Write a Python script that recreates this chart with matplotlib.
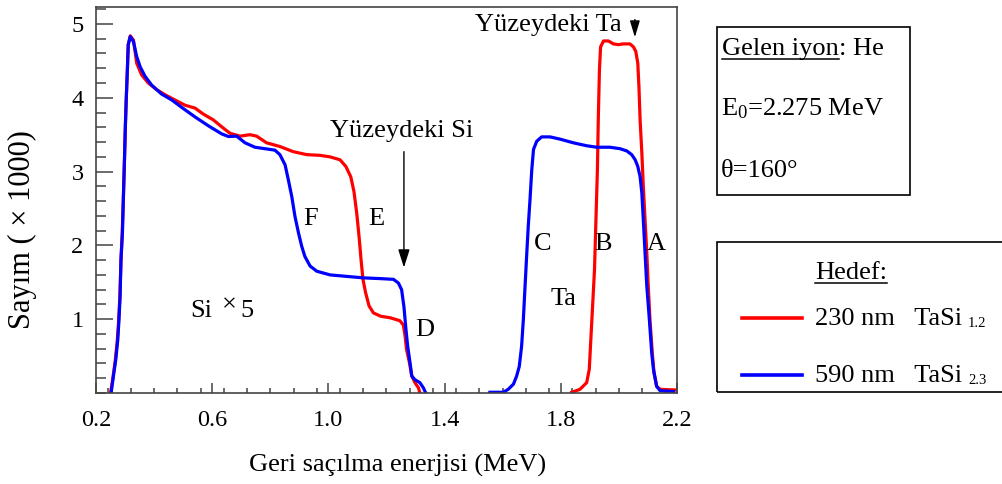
import matplotlib
matplotlib.use("Agg")
import matplotlib.pyplot as plt
from matplotlib.lines import Line2D
from matplotlib.patches import Rectangle
from matplotlib.ticker import MultipleLocator, FixedLocator

plt.rcParams['font.family'] = ['Liberation Serif', 'DejaVu Serif']
plt.rcParams['mathtext.fontset'] = 'custom'
plt.rcParams['mathtext.rm'] = 'Liberation Serif'
plt.rcParams['mathtext.it'] = 'Liberation Serif:italic'

# ---- data (energy in MeV, counts x1000) ----
red_si_E = [0.250, 0.258, 0.266, 0.273, 0.278, 0.282, 0.286, 0.290, 0.294, 0.298,
            0.301, 0.304, 0.308, 0.311, 0.318, 0.329, 0.340, 0.357, 0.380, 0.409,
            0.438, 0.472, 0.506, 0.541, 0.569, 0.604, 0.638, 0.661, 0.696, 0.730,
            0.753, 0.787, 0.833, 0.879, 0.925, 0.971, 1.005, 1.040, 1.060, 1.077,
            1.088, 1.098, 1.106, 1.113, 1.119, 1.128, 1.140, 1.155, 1.180, 1.212,
            1.246, 1.258, 1.264, 1.269, 1.279, 1.287, 1.298, 1.310, 1.315]
red_si_c = [0.00, 0.20, 0.43, 0.70, 0.98, 1.30, 1.80, 2.15, 2.60, 3.15,
            3.60, 3.97, 4.38, 4.72, 4.84, 4.78, 4.47, 4.31, 4.20, 4.11,
            4.04, 3.97, 3.90, 3.86, 3.78, 3.70, 3.59, 3.52, 3.48, 3.50,
            3.48, 3.39, 3.34, 3.27, 3.23, 3.22, 3.20, 3.16, 3.07, 2.93,
            2.73, 2.42, 2.10, 1.78, 1.54, 1.36, 1.18, 1.085, 1.04, 1.02,
            0.98, 0.92, 0.77, 0.59, 0.41, 0.23, 0.14, 0.07, 0.0]
red_ta_E = [1.838, 1.866, 1.889, 1.898, 1.904, 1.910, 1.916, 1.921, 1.926, 1.929,
            1.933, 1.937, 1.947, 1.964, 1.981, 1.998, 2.015, 2.038, 2.050, 2.058,
            2.065, 2.069, 2.073, 2.079, 2.084, 2.090, 2.096, 2.101, 2.107, 2.115,
            2.121, 2.130, 2.142, 2.200]
red_ta_c = [0.01, 0.05, 0.14, 0.32, 0.77, 1.22, 1.67, 2.35, 3.02, 3.70,
            4.38, 4.69, 4.77, 4.77, 4.73, 4.72, 4.73, 4.73, 4.69, 4.63,
            4.47, 4.15, 3.70, 3.25, 2.80, 2.35, 1.90, 1.45, 0.99, 0.54,
            0.27, 0.09, 0.05, 0.04]

blue_si_E = [0.252, 0.260, 0.268, 0.275, 0.279, 0.283, 0.286, 0.291, 0.294, 0.298,
             0.301, 0.304, 0.308, 0.311, 0.318, 0.329, 0.340, 0.352, 0.369, 0.392,
             0.426, 0.461, 0.495, 0.541, 0.587, 0.633, 0.656, 0.684, 0.713, 0.747,
             0.782, 0.816, 0.833, 0.851, 0.862, 0.874, 0.885, 0.897, 0.908, 0.919,
             0.937, 0.960, 1.006, 1.063, 1.120, 1.178, 1.224, 1.241, 1.252, 1.260,
             1.267, 1.273, 1.281, 1.287, 1.298, 1.315, 1.327, 1.335]
blue_si_c = [0.00, 0.23, 0.45, 0.72, 0.99, 1.31, 1.81, 2.17, 2.62, 3.16,
             3.61, 3.97, 4.38, 4.72, 4.83, 4.76, 4.56, 4.42, 4.29, 4.17,
             4.05, 3.97, 3.87, 3.74, 3.62, 3.51, 3.475, 3.48, 3.39, 3.33,
             3.31, 3.29, 3.23, 3.09, 2.89, 2.66, 2.39, 2.17, 1.99, 1.85,
             1.72, 1.65, 1.60, 1.58, 1.56, 1.55, 1.54, 1.49, 1.40, 1.17,
             0.86, 0.63, 0.41, 0.23, 0.18, 0.14, 0.07, 0.0]
blue_ta_E = [1.556, 1.602, 1.619, 1.637, 1.648, 1.657, 1.665, 1.671, 1.677, 1.683,
             1.688, 1.694, 1.700, 1.706, 1.717, 1.734, 1.763, 1.797, 1.843, 1.889,
             1.924, 1.969, 2.004, 2.027, 2.044, 2.056, 2.065, 2.073, 2.079, 2.084,
             2.090, 2.096, 2.105, 2.113, 2.119, 2.130, 2.142, 2.188]
blue_ta_c = [0.01, 0.01, 0.05, 0.12, 0.23, 0.36, 0.63, 0.99, 1.45, 1.90,
             2.26, 2.62, 3.02, 3.30, 3.41, 3.47, 3.47, 3.44, 3.39, 3.35,
             3.33, 3.33, 3.31, 3.28, 3.23, 3.16, 3.07, 2.93, 2.71, 2.35,
             1.90, 1.45, 0.99, 0.54, 0.32, 0.09, 0.03, 0.02]

x_ticks = [0.2, 0.6, 1.0, 1.4, 1.8, 2.2]
x_ticklabels = ["0.2", "0.6", "1.0", "1.4", "1.8", "2.2"]
y_ticks = [1, 2, 3, 4, 5]
y_ticklabels = ["1", "2", "3", "4", "5"]

peak_labels = [("F", 0.937, 2.36), ("E", 1.166, 2.36), ("D", 1.333, 0.85),
               ("C", 1.737, 2.02), ("B", 1.944, 2.02), ("A", 2.129, 2.02),
               ("Ta", 1.808, 1.28)]

RED = '#ff0000'
BLUE = '#0000ff'
W, H = 1002, 484

fig = plt.figure(figsize=(W / 100, H / 100), dpi=100)
ax = fig.add_axes([96 / W, 1 - 393 / H, (677 - 96) / W, (393 - 7) / H])

ax.plot(red_si_E, red_si_c, color=RED, lw=2.3, solid_joinstyle='round')
ax.plot(red_ta_E, red_ta_c, color=RED, lw=2.3, solid_joinstyle='round')
ax.plot(blue_si_E, blue_si_c, color=BLUE, lw=2.3, solid_joinstyle='round')
ax.plot(blue_ta_E, blue_ta_c, color=BLUE, lw=2.3, solid_joinstyle='round')

ax.set_xlim(0.2, 2.2)
ax.set_ylim(0, 5.23)
ax.xaxis.set_major_locator(FixedLocator(x_ticks))
ax.set_xticklabels(x_ticklabels)
ax.xaxis.set_minor_locator(MultipleLocator(0.08))
ax.yaxis.set_major_locator(FixedLocator(y_ticks))
ax.set_yticklabels(y_ticklabels)
ax.yaxis.set_minor_locator(MultipleLocator(0.2))

frame_col = '#444444'
for s in ax.spines.values():
    s.set_color(frame_col)
    s.set_linewidth(1.2)
ax.tick_params(axis='x', which='major', direction='in', length=7, width=1.1,
               color=frame_col, labelsize=17.5, pad=12)
ax.tick_params(axis='x', which='minor', direction='in', length=3.5, width=1.1,
               color=frame_col)
ax.tick_params(axis='y', which='major', direction='in', length=12, width=1.1,
               color=frame_col, labelsize=17.5, pad=9)
ax.tick_params(axis='y', which='minor', direction='in', length=7, width=1.1,
               color=frame_col)

fig.text(398 / W, 1 - 465 / H, "Geri saçılma enerjisi (MeV)", fontsize=19,
         ha='center', va='center')
fig.text(22 / W, 1 - 230 / H, "Sayım ( × 1000)", fontsize=22, rotation=90,
         ha='center', va='center')

for txt, ex, cy in peak_labels:
    ax.text(ex, cy, txt, fontsize=19, ha='center', va='center')

# "Si x5" label with raised multiplication sign
ax.text(0.5236, 1.035, "Si", fontsize=19, ha='left', va='baseline')
ax.text(0.634, 1.11, "×", fontsize=19, ha='left', va='baseline')
ax.text(0.6957, 1.035, "5", fontsize=19, ha='left', va='baseline')

# arrows
ax.annotate("", xy=(1.26, 1.70), xytext=(1.26, 3.27),
            arrowprops=dict(arrowstyle='-|>,head_length=1.1,head_width=0.35',
                            mutation_scale=10, color='black', lw=1.0,
                            shrinkA=0, shrinkB=0))
ax.text(1.253, 3.47, "Yüzeydeki Si", fontsize=19, ha='center', va='baseline')
ax.annotate("", xy=(2.055, 4.82), xytext=(2.055, 5.06),
            arrowprops=dict(arrowstyle='-|>,head_length=1.0,head_width=0.3',
                            mutation_scale=10, color='black', lw=1.0,
                            shrinkA=0, shrinkB=0))
ax.text(2.011, 4.90, "Yüzeydeki Ta", fontsize=19, ha='right', va='baseline')

# ---- info box ----
def fx(px):
    return px / W

def fy(py):
    return 1 - py / H

fig.add_artist(Rectangle((fx(717), fy(195)), fx(910) - fx(717), fy(27) - fy(195),
                         transform=fig.transFigure, fill=False, ec='black', lw=1.2))
fig.add_artist(Rectangle((fx(717), fy(392)), fx(1010) - fx(717), fy(242) - fy(392),
                         transform=fig.transFigure, fill=False, ec='black', lw=1.2,
                         clip_on=False))

t1 = fig.text(fx(722), fy(55), "Gelen iyon", fontsize=19, ha='left', va='baseline')
fig.canvas.draw()
r = fig.canvas.get_renderer()
bb = t1.get_window_extent(r)
fig.text(bb.x1 / W, fy(55), ": He", fontsize=19, ha='left', va='baseline')
fig.add_artist(Line2D([bb.x0 / W, bb.x1 / W], [fy(58.5), fy(58.5)],
                      transform=fig.transFigure, color='black', lw=1.1))
fig.text(fx(721), fy(115), r"E$_{0}$=2.275 MeV", fontsize=19, ha='left', va='baseline')
fig.text(fx(721), fy(177), "θ=160°", fontsize=19, ha='left', va='baseline')

# ---- legend box ----
t2 = fig.text(fx(851), fy(279), "Hedef:", fontsize=19, ha='center', va='baseline')
fig.canvas.draw()
bb2 = t2.get_window_extent(r)
fig.add_artist(Line2D([bb2.x0 / W, bb2.x1 / W], [fy(283), fy(283)],
                      transform=fig.transFigure, color='black', lw=1.1))

legend_rows = [(RED, "230 nm   TaSi", "1.2", 318, 325),
               (BLUE, "590 nm   TaSi", "2.3", 375, 382)]
for col, main, sub, ly, base in legend_rows:
    fig.add_artist(Line2D([fx(742), fx(802)], [fy(ly), fy(ly)],
                          transform=fig.transFigure, color=col, lw=2.6))
    tm = fig.text(fx(815), fy(base), main, fontsize=19, ha='left', va='baseline')
    fig.canvas.draw()
    bbm = tm.get_window_extent(r)
    fig.text((bbm.x1 + 6) / W, fy(base + 2), sub, fontsize=10.5, ha='left',
             va='baseline')

fig.savefig("out.png", dpi=100)
